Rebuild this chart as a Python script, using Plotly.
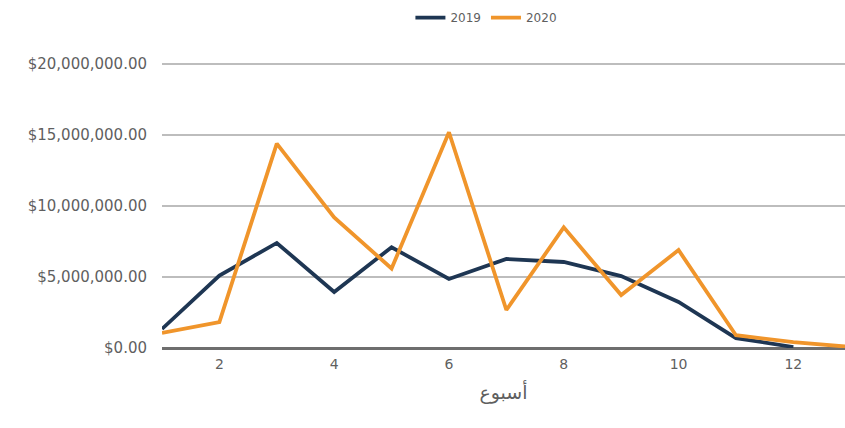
import plotly.graph_objects as go

weeks_2019 = [1, 2, 3, 4, 5, 6, 7, 8, 9, 10, 11, 12]
sales_2019 = [1340000, 5100000, 7400000, 3950000, 7100000, 4860000, 6270000, 6060000, 5070000, 3240000, 700000, 70000]
weeks_2020 = [1, 2, 3, 4, 5, 6, 7, 8, 9, 10, 11, 12, 13]
sales_2020 = [1060000, 1830000, 14400000, 9200000, 5600000, 15200000, 2680000, 8500000, 3730000, 6900000, 900000, 420000, 70000]

FONT = "DejaVu Sans"
GRAY = "#5f5f5f"

fig = go.Figure()
fig.add_trace(go.Scatter(x=weeks_2019, y=sales_2019, name="2019", mode="lines",
                         line=dict(color="#1e3653", width=3.8)))
fig.add_trace(go.Scatter(x=weeks_2020, y=sales_2020, name="2020", mode="lines",
                         line=dict(color="#f0952b", width=3.8)))

fig.update_layout(
    width=845, height=428,
    margin=dict(l=162, r=0, t=62, b=80),
    paper_bgcolor="white", plot_bgcolor="white",
    font=dict(family=FONT, color=GRAY, size=15),
    showlegend=True,
    legend=dict(orientation="h", x=0.475, xanchor="center", y=1.155, yanchor="middle",
                font=dict(size=12, color=GRAY), itemwidth=30),
    xaxis=dict(range=[1, 12.9], tick0=2, dtick=2, showgrid=False, zeroline=False,
               showline=False, ticks="", ticklabelstandoff=6,
               tickfont=dict(size=14),
               title=dict(text="أسبوع", font=dict(size=19, color=GRAY), standoff=14)),
    yaxis=dict(range=[0, 20150000], tick0=0, dtick=5000000, tickprefix="$", tickformat=",.2f",
               showgrid=True, gridcolor="#bdbdbd", gridwidth=2,
               zeroline=True, zerolinecolor="#6e6e6e", zerolinewidth=2.5,
               tickfont=dict(size=15),
               ticks="", ticklabelstandoff=14, showline=False),
)

fig.write_html("out.html")
